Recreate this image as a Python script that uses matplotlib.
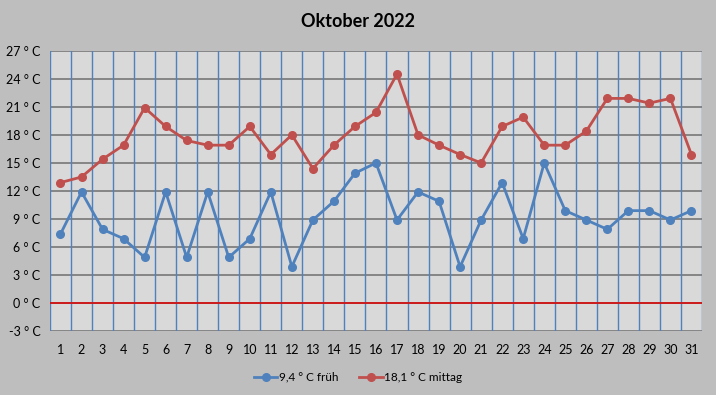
import numpy as np
import matplotlib
matplotlib.use("Agg")
import matplotlib.pyplot as plt

plt.rcParams["font.family"] = ["Lato", "DejaVu Sans"]

# Tage im Oktober 2022
days = list(range(1, 32))

# Temperatur früh (°C)
frueh = [7.4, 11.9, 7.9, 6.9, 4.9, 11.9, 4.9, 11.9, 4.9, 6.9,
         11.9, 3.9, 8.9, 10.9, 13.9, 15.0, 8.9, 11.9, 10.9, 3.9,
         8.9, 12.9, 6.9, 15.0, 9.9, 8.9, 7.9, 9.9, 9.9, 8.9, 9.9]

# Temperatur mittag (°C)
mittag = [12.9, 13.5, 15.4, 16.9, 20.9, 18.9, 17.4, 16.9, 16.9, 18.9,
          15.9, 18.0, 14.4, 16.9, 18.9, 20.4, 24.5, 18.0, 16.9, 15.9,
          15.0, 18.9, 19.9, 16.9, 16.9, 18.4, 21.9, 21.9, 21.4, 21.9, 15.9]

y_ticks = list(range(-3, 28, 3))
label_frueh = "9,4 ° C früh"
label_mittag = "18,1 ° C mittag"

BLUE = "#4F81BD"
RED = "#C0504D"

fig = plt.figure(figsize=(7.16, 3.95), dpi=100, facecolor="#BEBEBE")
ax = fig.add_axes([0.0698, 0.1613, 0.9106, 0.7103])
ax.set_facecolor("#D9D9D9")

ax.set_xlim(0.5, 31.5)
ax.set_ylim(-3, 27)

# Gitter: horizontal grau, vertikal blau zwischen den Tagen
for y in y_ticks:
    ax.axhline(y, color="#7F7F7F", lw=1.3, zorder=1)
ax.axhline(0, color="#E00000", lw=1.1, zorder=1.5)
for x in np.arange(0.5, 32, 1):
    ax.axvline(x, color=BLUE, lw=1.0, zorder=1)

for s in ax.spines.values():
    s.set_visible(False)

ax.plot(days, frueh, color=BLUE, lw=2.0, marker="o", ms=5.5,
        label=label_frueh, zorder=3)
ax.plot(days, mittag, color=RED, lw=2.0, marker="o", ms=5.5,
        label=label_mittag, zorder=3)

ax.set_xticks(days)
ax.set_xticklabels([str(d) for d in days], fontsize=9)
ax.set_yticks(y_ticks)
ax.set_yticklabels([f"{y} ° C" for y in y_ticks], fontsize=9)
ax.tick_params(length=0, pad=9)
ax.tick_params(axis="y", pad=7)

fig.text(0.5, 0.945, "Oktober 2022", ha="center", va="center",
         fontsize=13, fontweight="bold")

fig.legend(loc="center", bbox_to_anchor=(0.5, 0.045), ncol=2, frameon=False,
           fontsize=8.5, handlelength=2.0, handletextpad=0.1, columnspacing=1.8)

fig.savefig("out.png", dpi=100, facecolor=fig.get_facecolor())
